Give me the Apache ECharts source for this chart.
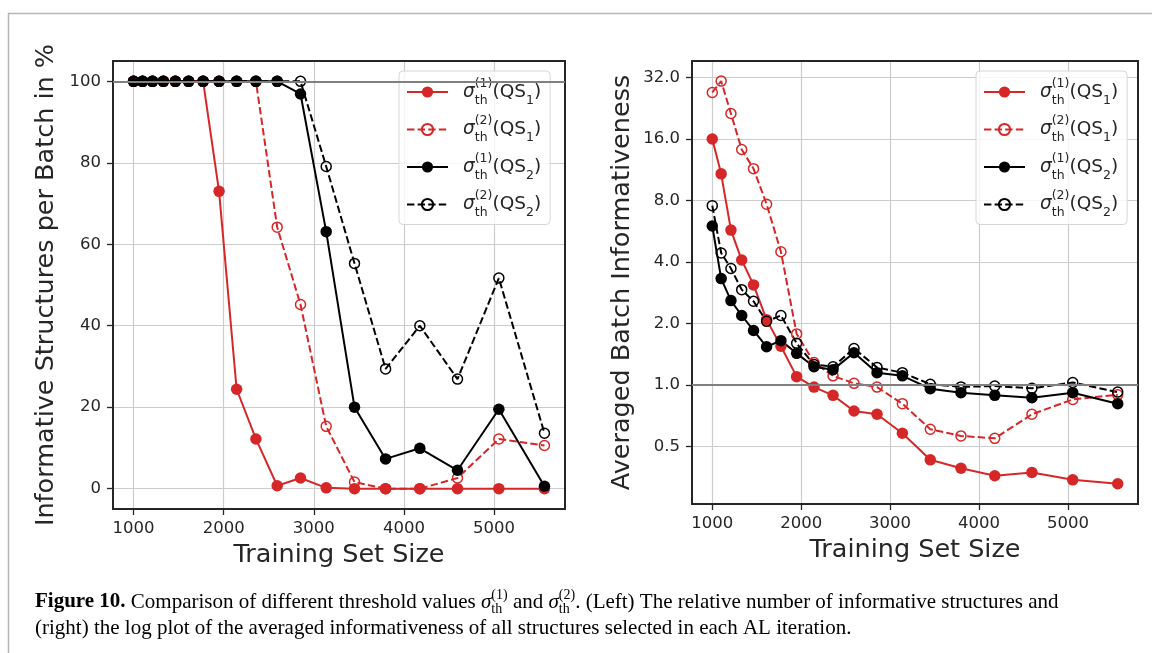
<!DOCTYPE html>
<html><head><meta charset="utf-8">
<script src="https://cdn.jsdelivr.net/npm/echarts@6/dist/echarts.min.js"></script>
<style>html,body{margin:0;padding:0;background:#fff}#c{width:1152px;height:653px}</style>
</head><body><div id="c"></div>
<script>
// ---- data ----
const trainingSize = [1000, 1100, 1210, 1331, 1464, 1611, 1772, 1949, 2144, 2358, 2594, 2853, 3138, 3452, 3797, 4177, 4595, 5054, 5560];
// left: informative structures per batch in %
const pctS1Q1 = [100, 100, 100, 100, 100, 100, 100, 73, 24.4, 12.2, 0.7, 2.6, 0.2, 0, 0, 0, 0, 0, 0];
const pctS2Q1 = [100, 100, 100, 100, 100, 100, 100, 100, 100, 100, 64.2, 45.2, 15.3, 1.6, 0, 0, 2.6, 12.2, 10.6];
const pctS1Q2 = [100, 100, 100, 100, 100, 100, 100, 100, 100, 100, 100, 96.9, 63.1, 20.0, 7.3, 9.9, 4.5, 19.5, 0.6];
const pctS2Q2 = [100, 100, 100, 100, 100, 100, 100, 100, 100, 100, 100, 100, 79.1, 55.3, 29.4, 40.0, 26.9, 51.7, 13.6];
// right: averaged batch informativeness (log2 axis)
const infS1Q1 = [16.0, 10.8, 5.73, 4.09, 3.09, 2.09, 1.55, 1.10, 0.978, 0.891, 0.747, 0.72, 0.581, 0.431, 0.392, 0.36, 0.374, 0.344, 0.329];
const infS2Q1 = [27.0, 30.7, 21.3, 14.2, 11.45, 7.67, 4.49, 1.78, 1.29, 1.11, 1.02, 0.978, 0.811, 0.608, 0.564, 0.549, 0.72, 0.851, 0.897];
const infS1Q2 = [6.0, 3.32, 2.59, 2.19, 1.85, 1.54, 1.65, 1.43, 1.23, 1.19, 1.44, 1.15, 1.11, 0.96, 0.918, 0.891, 0.868, 0.918, 0.811];
const infS2Q2 = [7.55, 4.43, 3.72, 2.93, 2.57, 2.05, 2.19, 1.60, 1.26, 1.23, 1.51, 1.22, 1.15, 1.01, 0.98, 0.989, 0.964, 1.03, 0.924];
// ticks
const xTicks = [1000, 2000, 3000, 4000, 5000];
const yTicksLeft = [0, 20, 40, 60, 80, 100];
const yTicksRight = [0.5, 1, 2, 4, 8, 16, 32];
const legendLabels = {
  L1: '{s|σ}{t|th}{p|(1)}{n|(QS}{i|1}{n|)}', L2: '{s|σ}{t|th}{p|(2)}{n|(QS}{i|1}{n|)}',
  L3: '{s|σ}{t|th}{p|(1)}{n|(QS}{i|2}{n|)}', L4: '{s|σ}{t|th}{p|(2)}{n|(QS}{i|2}{n|)}',
  R1: '{s|σ}{t|th}{p|(1)}{n|(QS}{i|1}{n|)}', R2: '{s|σ}{t|th}{p|(2)}{n|(QS}{i|1}{n|)}',
  R3: '{s|σ}{t|th}{p|(1)}{n|(QS}{i|2}{n|)}', R4: '{s|σ}{t|th}{p|(2)}{n|(QS}{i|2}{n|)}'
};

// ---- styling ----
const RED = '#d62728', BLK = '#000000', TXT = '#262626';
const pair = arr => trainingSize.map((x, i) => [x, arr[i]]);
function mk(name, arr, idx, color, open) {
  return {
    name, type: 'line', xAxisIndex: idx, yAxisIndex: idx, data: pair(arr),
    symbol: 'circle', symbolSize: open ? 10 : 11.5, showSymbol: true,
    lineStyle: { color, width: 2, type: open ? [7.4, 3.2] : 'solid' },
    itemStyle: open ? { color: 'rgba(0,0,0,0)', borderColor: color, borderWidth: 1.5 } : { color },
    emphasis: { disabled: true }, animation: false, z: 3
  };
}
function hline(idx, v) {
  return {
    type: 'line', xAxisIndex: idx, yAxisIndex: idx, data: [], z: 2, silent: true, animation: false,
    markLine: { silent: true, symbol: 'none', animation: false, label: { show: false },
      lineStyle: { color: '#808080', width: 2, type: 'solid' }, data: [{ yAxis: v }] }
  };
}
const rich = {
  s: { fontSize: 18.5, fontStyle: 'italic', lineHeight: 30, color: TXT, padding: [0, 0, 0, 10] },
  t: { fontSize: 12.5, verticalAlign: 'bottom', lineHeight: 22, width: 0, color: TXT },
  p: { fontSize: 12.5, verticalAlign: 'top', lineHeight: 22, color: TXT },
  n: { fontSize: 18.5, lineHeight: 30, color: TXT },
  i: { fontSize: 12.5, verticalAlign: 'bottom', lineHeight: 24, color: TXT }
};
function legend(left, names) {
  return {
    orient: 'vertical', left, top: 71, data: names, itemWidth: 41, itemHeight: 14, itemGap: 7.5,
    padding: [6, 9, 5, 7], borderColor: '#d6d6d6', borderWidth: 1, borderRadius: 4,
    backgroundColor: 'rgba(255,255,255,0.8)', selectedMode: false,
    formatter: n => legendLabels[n], textStyle: { rich, fontFamily: 'DejaVu Sans' }
  };
}
const tickStyle = { show: true, length: 6, lineStyle: { color: TXT, width: 1.3 } };
const gridLine = { show: true, lineStyle: { color: '#cccccc', width: 1.2 } };
const labelStyle = { fontSize: 16.5, color: TXT, fontFamily: 'DejaVu Sans' };
const nameStyle = { fontSize: 25.5, color: TXT, fontFamily: 'DejaVu Sans' };
function xAx(idx) {
  return {
    type: 'value', gridIndex: idx, min: 772, max: 5788,
    axisLine: { show: false, onZero: false },
    axisTick: Object.assign({ customValues: xTicks }, tickStyle),
    axisLabel: Object.assign({ customValues: xTicks, margin: 11, formatter: v => String(v) }, labelStyle),
    splitLine: gridLine,
    name: 'Training Set Size', nameLocation: 'middle', nameGap: 33, nameTextStyle: nameStyle
  };
}
const caption1 = '{b|Figure 10.} Comparison of different threshold values {s|σ}{t|th}{p|(1)} and {s|σ}{t|th}{p|(2)}. (Left) The relative number of informative structures and';
const caption2 = '(right) the log plot of the averaged informativeness of all structures selected in each AL iteration.';
const capFont = 'Liberation Serif';
const capRich = {
  b: { fontWeight: 'bold', fontSize: 21, fontFamily: capFont, lineHeight: 28, fill: '#000' },
  s: { fontStyle: 'italic', fontSize: 21, fontFamily: capFont, lineHeight: 28, fill: '#000' },
  t: { fontSize: 14, fontFamily: capFont, verticalAlign: 'bottom', lineHeight: 18, width: 0, fill: '#000' },
  p: { fontSize: 14, fontFamily: capFont, verticalAlign: 'top', lineHeight: 15, fill: '#000' }
};

const chart = echarts.init(document.getElementById('c'), null, { renderer: 'canvas' });
chart.setOption({
  animation: false,
  backgroundColor: '#ffffff',
  textStyle: { fontFamily: 'DejaVu Sans' },
  grid: [
    { left: 113, top: 61, right: 587, bottom: 144, show: true, borderColor: TXT, borderWidth: 2, backgroundColor: 'transparent', z: 4 },
    { left: 692, top: 61, right: 14, bottom: 149, show: true, borderColor: TXT, borderWidth: 2, backgroundColor: 'transparent', z: 4 }
  ],
  xAxis: [xAx(0), xAx(1)],
  yAxis: [
    { type: 'value', gridIndex: 0, min: -5, max: 105,
      axisLine: { show: false, onZero: false },
      axisTick: Object.assign({ customValues: yTicksLeft }, tickStyle),
      axisLabel: Object.assign({ customValues: yTicksLeft, margin: 12 }, labelStyle),
      splitLine: gridLine,
      name: 'Informative Structures per Batch in %', nameLocation: 'middle', nameRotate: 90, nameGap: 54, nameTextStyle: nameStyle },
    { type: 'log', logBase: 2, gridIndex: 1, min: 0.262, max: 38.5,
      axisLine: { show: false, onZero: false },
      axisTick: Object.assign({ customValues: yTicksRight }, tickStyle),
      axisLabel: Object.assign({ customValues: yTicksRight, margin: 12, formatter: v => Number(v).toFixed(1) }, labelStyle),
      splitLine: gridLine, minorSplitLine: { show: false },
      name: 'Averaged Batch Informativeness', nameLocation: 'middle', nameRotate: 90, nameGap: 57, nameTextStyle: nameStyle }
  ],
  legend: [legend(399, ['L1', 'L2', 'L3', 'L4']), legend(976, ['R1', 'R2', 'R3', 'R4'])],
  series: [
    hline(0, 100), hline(1, 1),
    mk('L1', pctS1Q1, 0, RED, false), mk('L2', pctS2Q1, 0, RED, true),
    mk('L3', pctS1Q2, 0, BLK, false), mk('L4', pctS2Q2, 0, BLK, true),
    mk('R1', infS1Q1, 1, RED, false), mk('R2', infS2Q1, 1, RED, true),
    mk('R3', infS1Q2, 1, BLK, false), mk('R4', infS2Q2, 1, BLK, true)
  ],
  graphic: [
    { type: 'polyline', silent: true, z: 0, shape: { points: [[8.5, 660], [8.5, 13.5], [1160, 13.5]] },
      style: { stroke: '#b5b5b5', lineWidth: 1.5, fill: null } },
    { type: 'text', left: 35, top: 588, silent: true,
      style: { text: caption1, rich: capRich, font: '21px "Liberation Serif"', fill: '#000', lineHeight: 28 } },
    { type: 'text', left: 35, top: 618, silent: true,
      style: { text: caption2, font: '21px "Liberation Serif"', fill: '#000' } }
  ]
});
</script></body></html>
